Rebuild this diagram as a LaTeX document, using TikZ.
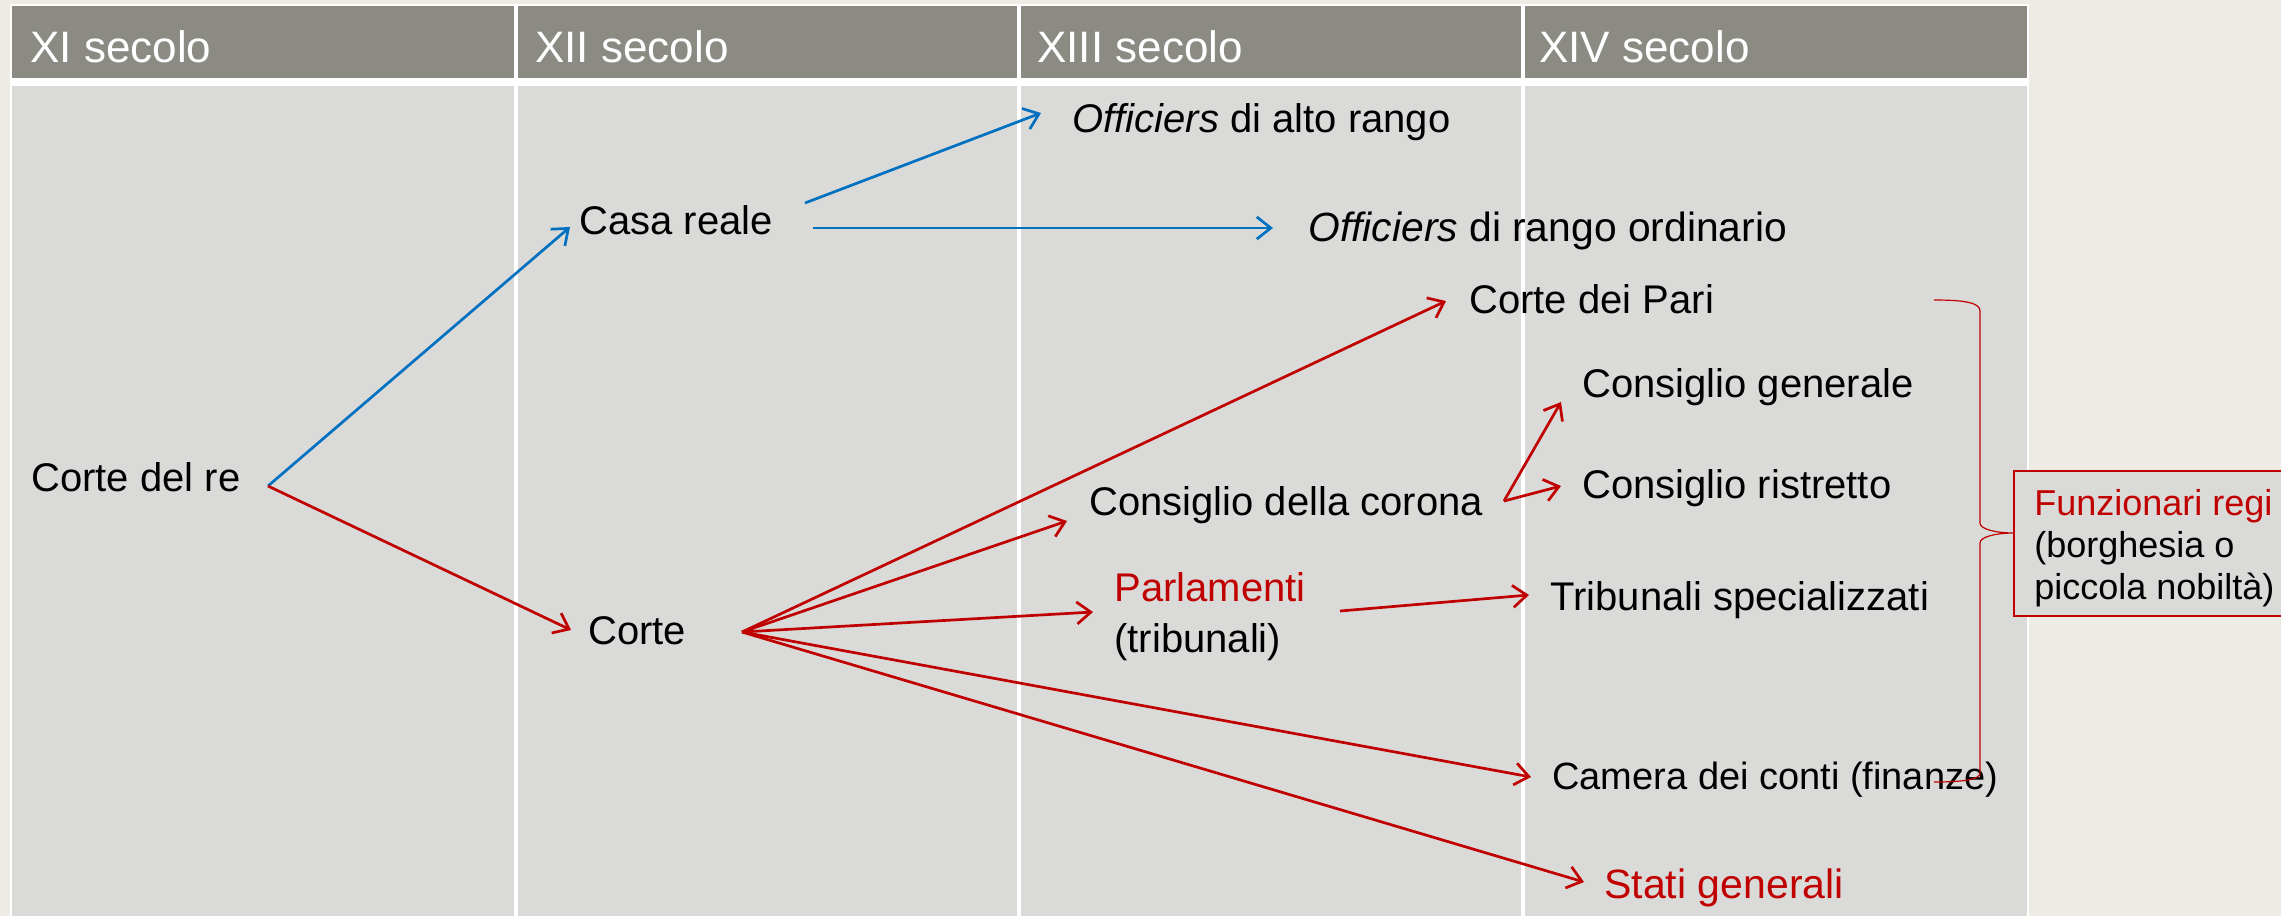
\documentclass[tikz,border=0pt]{standalone}
\usepackage{fontspec}
\setmainfont{Liberation Sans}
\usetikzlibrary{arrows.meta,calc}
\definecolor{bgbeige}{RGB}{238,235,228}
\definecolor{hdrgray}{RGB}{139,139,132}
\definecolor{bodygray}{RGB}{218,218,216}
\definecolor{arrred}{RGB}{192,0,0}
\definecolor{arrblue}{RGB}{0,112,192}
\tikzset{
  hdrcell/.style={fill=hdrgray,draw=none},
  bodycell/.style={fill=bodygray,draw=none},
  hdrtext/.style={anchor=base west,inner sep=0pt,text=white,font=\fontsize{22pt}{26pt}\selectfont},
  lbl/.style={anchor=base west,inner sep=0pt,text=black,font=\fontsize{20pt}{24pt}\selectfont},
  redlbl/.style={lbl,text=arrred},
  notetext/.style={anchor=base west,inner sep=0pt,font=\fontsize{18pt}{22pt}\selectfont},
  bluearr/.style={draw=arrblue,line width=1.35pt,-{Straight Barb[length=7pt,width=11pt]}},
  redarr/.style={draw=arrred,line width=1.35pt,-{Straight Barb[length=7pt,width=11pt]}},
  bracestyle/.style={draw=arrred,line width=0.6pt},
  notebox/.style={fill=bodygray,draw=arrred,line width=1pt}
}
\begin{document}
\begin{tikzpicture}[x=0.5pt,y=-0.5pt]
\clip (0,0) rectangle (2281,916);
\useasboundingbox (0,0) rectangle (2281,916);
% background
\fill[bgbeige] (0,0) rectangle (2281,916);
\fill[white] (10,4) rectangle (2029,916);
% header cells
\path[hdrcell] (12,6) rectangle (514,78);
\path[hdrcell] (518,6) rectangle (1017,78);
\path[hdrcell] (1021,6) rectangle (1521,78);
\path[hdrcell] (1525,6) rectangle (2027,78);
% body cells
\path[bodycell] (12,86) rectangle (514,916);
\path[bodycell] (518,86) rectangle (1017,916);
\path[bodycell] (1021,86) rectangle (1521,916);
\path[bodycell] (1525,86) rectangle (2027,916);
% header texts
\node[hdrtext] (h1) at (30,62) {XI secolo};
\node[hdrtext] (h2) at (535,62) {XII secolo};
\node[hdrtext] (h3) at (1037,62) {XIII secolo};
\node[hdrtext] (h4) at (1539,62) {XIV secolo};
% labels
\node[lbl] (cortere) at (31,491) {Corte del re};
\node[lbl] (casa) at (579,234) {Casa reale};
\node[lbl] (corte) at (588,644) {Corte};
\node[lbl] (offalto) at (1072,132) {\textit{Officiers} di alto rango};
\node[lbl,font=\fontsize{20.4pt}{24pt}\selectfont] (offord) at (1308,241) {\textit{Officiers} di rango ordinario};
\node[lbl] (pari) at (1469,313) {Corte dei Pari};
\node[lbl] (cgen) at (1582,397) {Consiglio generale};
\node[lbl] (crist) at (1582,498) {Consiglio ristretto};
\node[lbl] (ccor) at (1089,515) {Consiglio della corona};
\node[redlbl] (parl) at (1114,601) {Parlamenti};
\node[lbl] (tribl) at (1114,652) {(tribunali)};
\node[lbl] (trib) at (1550,610) {Tribunali specializzati};
\node[lbl,font=\fontsize{19pt}{23pt}\selectfont] (camera) at (1552,789) {Camera dei conti (finanze)};
\node[redlbl,font=\fontsize{20.5pt}{24pt}\selectfont] (stati) at (1604,898) {Stati generali};
% connector end points
\coordinate (oRe) at (268,486);
\coordinate (tCasa) at (570,227);
\coordinate (tCorte) at (571,630);
\coordinate (oCasaA) at (805,203);
\coordinate (tOffAlto) at (1041,113);
\coordinate (oCasaB) at (813,228);
\coordinate (tOffOrd) at (1273,228);
\coordinate (oCorte) at (742,632);
\coordinate (tPari) at (1446,301);
\coordinate (tCcor) at (1067,521);
\coordinate (tParl) at (1093,612);
\coordinate (tCamera) at (1531,777);
\coordinate (tStati) at (1584,882);
\coordinate (oCcor) at (1504,501);
\coordinate (tCgen) at (1561,402);
\coordinate (tCrist) at (1561,486);
\coordinate (oParl) at (1340,611);
\coordinate (tTrib) at (1529,595);
% blue connectors
\draw[bluearr] (oRe) -- (tCasa);
\draw[bluearr] (oCasaA) -- (tOffAlto);
\draw[bluearr] (oCasaB) -- (tOffOrd);
% red connectors
\draw[redarr] (oRe) -- (tCorte);
\draw[redarr] (oCorte) -- (tPari);
\draw[redarr] (oCorte) -- (tCcor);
\draw[redarr] (oCorte) -- (tParl);
\draw[redarr] (oCorte) -- (tCamera);
\draw[redarr] (oCorte) -- (tStati);
\draw[redarr] (oCcor) -- (tCgen);
\draw[redarr] (oCcor) -- (tCrist);
\draw[redarr] (oParl) -- (tTrib);
% brace
\coordinate (bTop) at (1934,300);
\coordinate (bTip) at (2014,533);
\coordinate (bBot) at (1934,782);
\draw[bracestyle] (bTop) .. controls (1966,300) and (1980,303) .. (1980,311)
  -- (1980,523) .. controls (1980,529) and (1995,533) .. (bTip)
  .. controls (1995,533) and (1980,537) .. (1980,543)
  -- (1980,773) .. controls (1980,779) and (1966,782) .. (bBot);
% note box
\path[notebox] (2014,471) rectangle (2300,616);
\node[notetext,text=arrred] (fr) at (2034,515) {Funzionari regi};
\node[notetext] (fr2) at (2034,557) {(borghesia o};
\node[notetext] (fr3) at (2034,599) {piccola nobiltà)};
\end{tikzpicture}
\end{document}
